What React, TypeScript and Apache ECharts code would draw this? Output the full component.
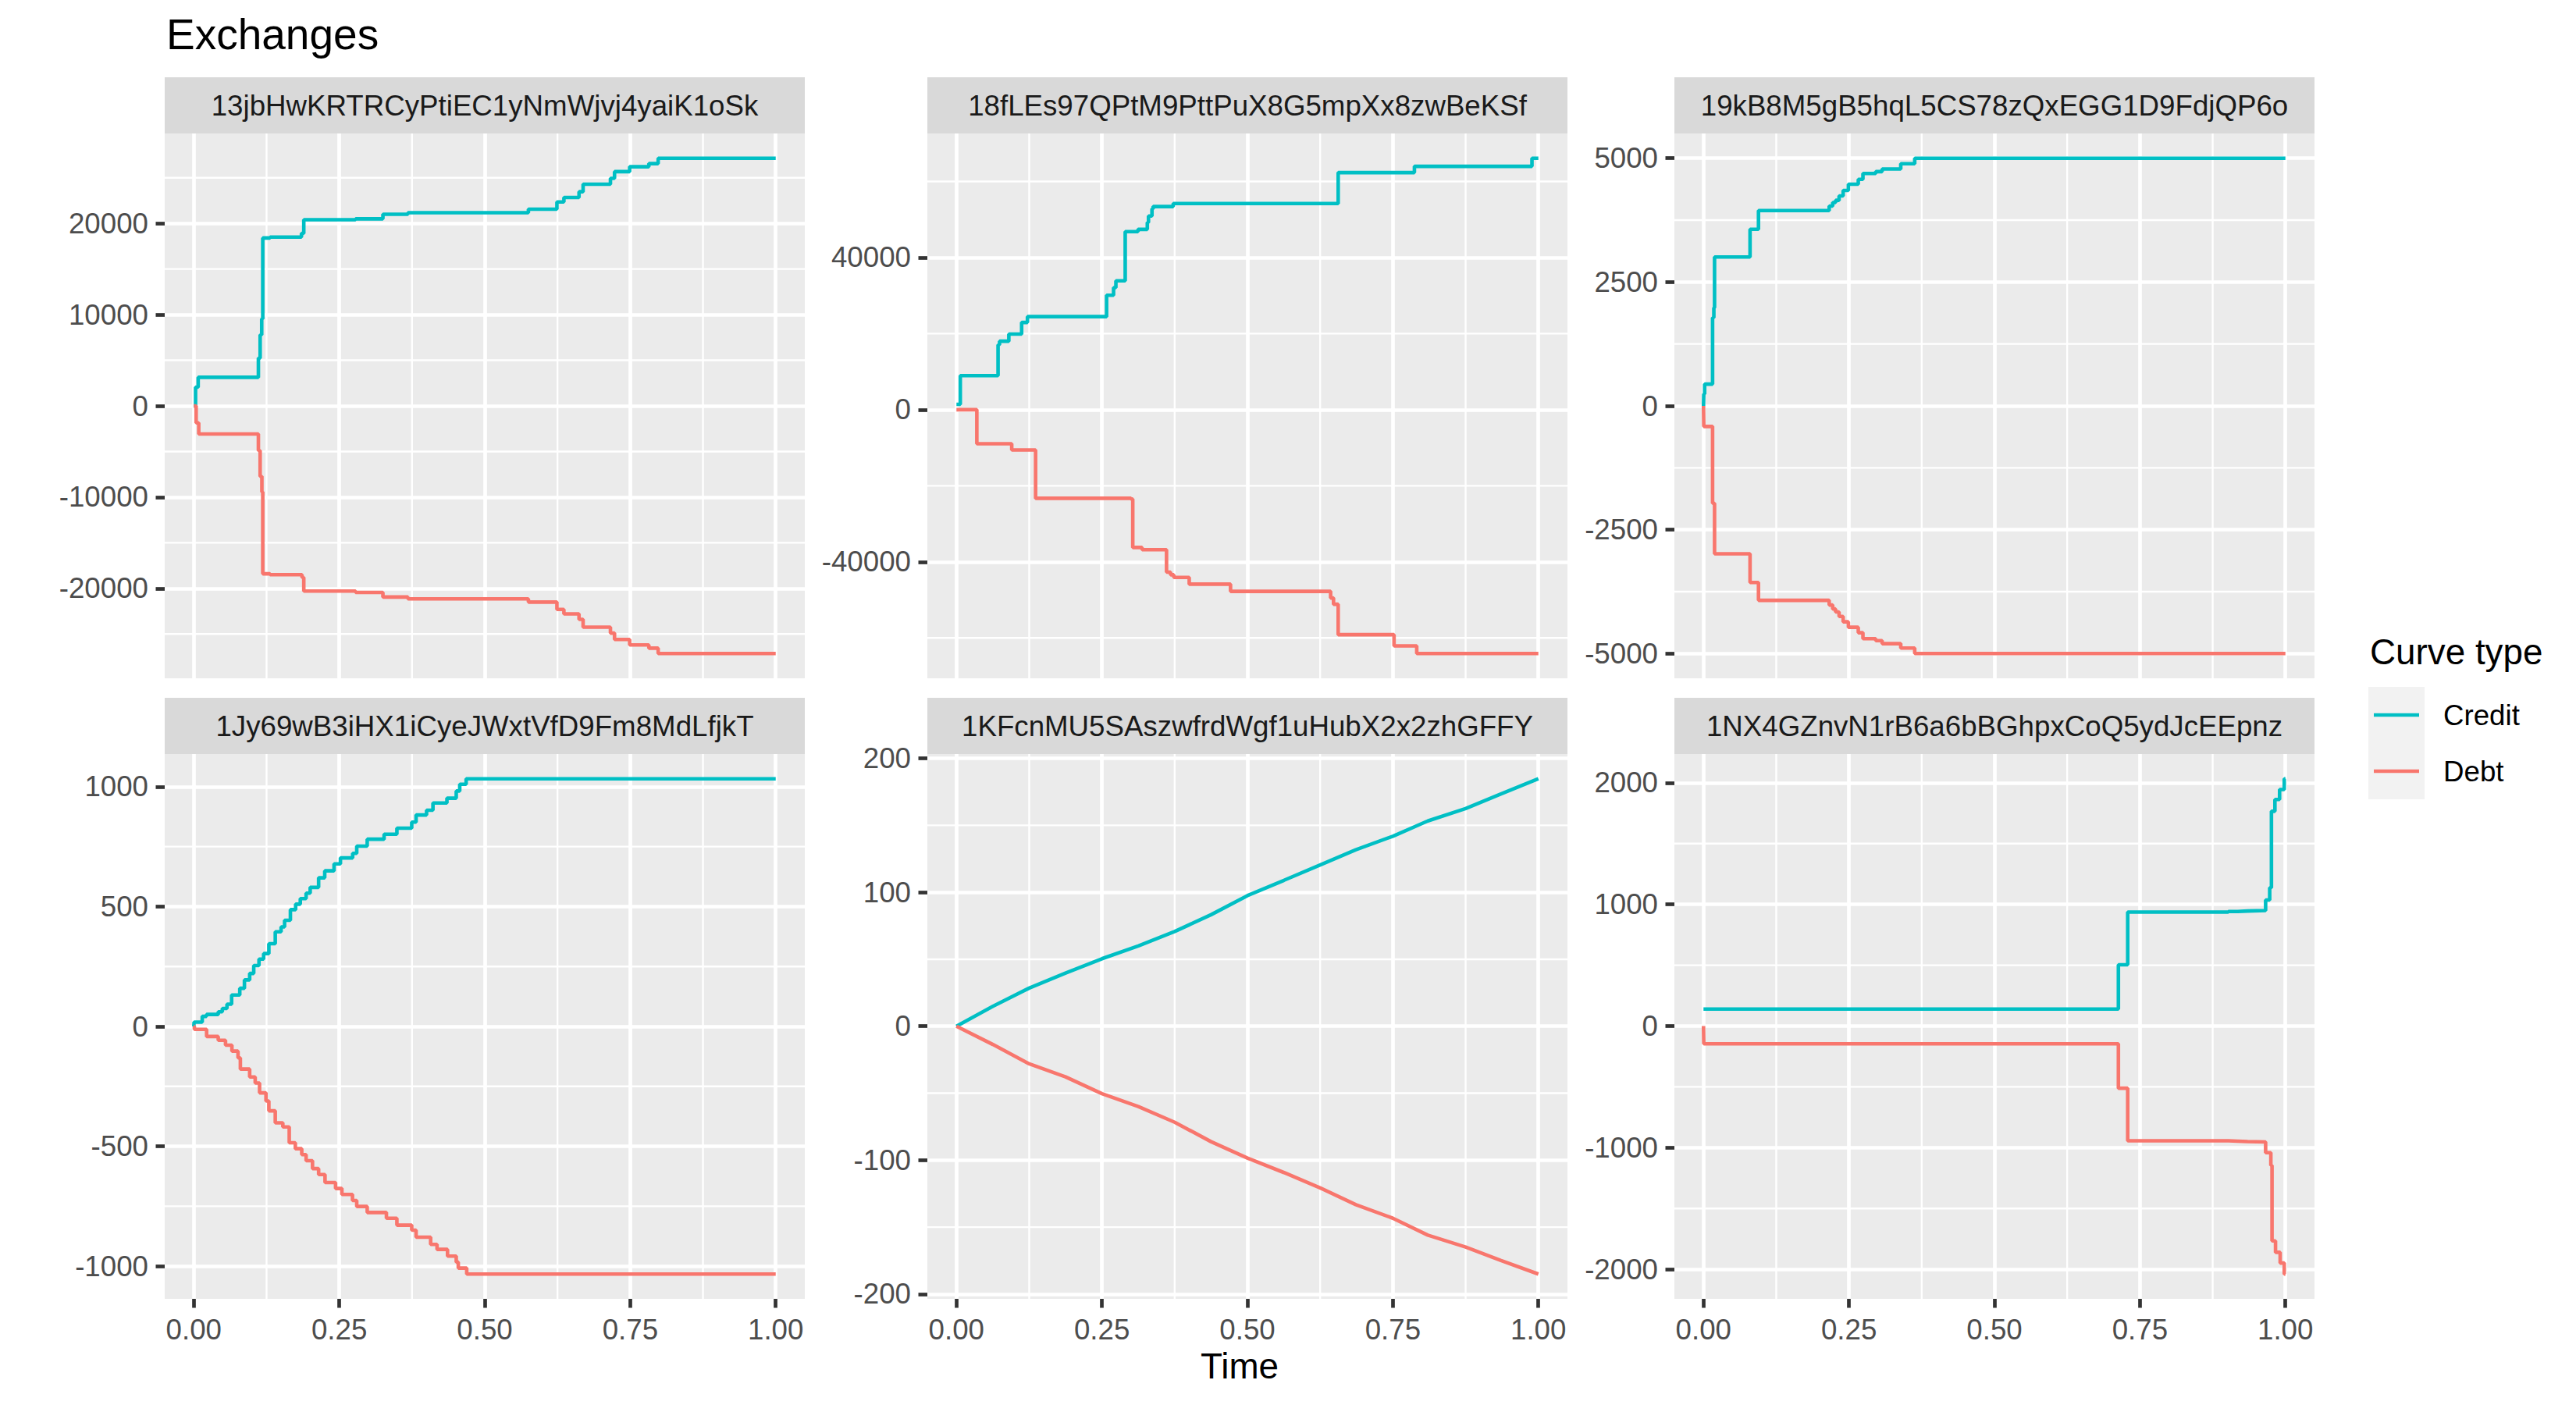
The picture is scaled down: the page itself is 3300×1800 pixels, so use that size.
import React, { useEffect, useRef } from "react";
import * as echarts from "echarts";

const FONT = "'Liberation Sans', Arial, Helvetica, sans-serif";
const CREDIT_COLOR = "#00BFC4";
const DEBT_COLOR = "#F8766D";
const MAJOR_W = 4.7;
const MINOR_W = 2.35;
const DATA_W = 4.6;

// ---------- labels ----------
const chartTitle = "Exchanges";
const xAxisTitle = "Time";
const legendTitle = "Curve type";
const legendLabels = ["Credit", "Debt"];
const panelNames = [
  "13jbHwKRTRCyPtiEC1yNmWjvj4yaiK1oSk",
  "18fLEs97QPtM9PttPuX8G5mpXx8zwBeKSf",
  "19kB8M5gB5hqL5CS78zQxEGG1D9FdjQP6o",
  "1Jy69wB3iHX1iCyeJWxtVfD9Fm8MdLfjkT",
  "1KFcnMU5SAszwfrdWgf1uHubX2x2zhGFFY",
  "1NX4GZnvN1rB6a6bBGhpxCoQ5ydJcEEpnz",
];

// ---------- ticks ----------
const xTicks = [0, 0.25, 0.5, 0.75, 1];
const xMinor = [0.125, 0.375, 0.625, 0.875];
const p1YTicks = [-20000, -10000, 0, 10000, 20000];
const p1YMinor = [-25000, -15000, -5000, 5000, 15000, 25000];
const p2YTicks = [-40000, 0, 40000];
const p2YMinor = [-60000, -20000, 20000, 60000];
const p3YTicks = [-5000, -2500, 0, 2500, 5000];
const p3YMinor = [-3750, -1250, 1250, 3750];
const p4YTicks = [-1000, -500, 0, 500, 1000];
const p4YMinor = [-750, -250, 250, 750];
const p5YTicks = [-200, -100, 0, 100, 200];
const p5YMinor = [-150, -50, 50, 150];
const p6YTicks = [-2000, -1000, 0, 1000, 2000];
const p6YMinor = [-1500, -500, 500, 1500];

// ---------- data: [time, cumulative value] ----------
const p1Credit = [
  [0, 0], [0.003, 2050], [0.0075, 3130], [0.111, 5230], [0.114, 7780], [0.1167, 9540],
  [0.1185, 18400], [0.131, 18500], [0.185, 18900], [0.189, 20400], [0.278, 20500],
  [0.325, 21000], [0.368, 21170], [0.575, 21560], [0.624, 22350], [0.636, 22840],
  [0.662, 23470], [0.669, 24300], [0.716, 24940], [0.723, 25670], [0.749, 26210],
  [0.782, 26550], [0.798, 27140], [1.0, 27140],
];
const p1Debt = [
  [0, 0], [0.004, -1860], [0.0085, -3080], [0.111, -4900], [0.114, -7730], [0.117, -9440],
  [0.1185, -18400], [0.131, -18500], [0.186, -18800], [0.189, -20300], [0.278, -20450],
  [0.325, -20950], [0.368, -21150], [0.575, -21500], [0.624, -22300], [0.636, -22800],
  [0.662, -23400], [0.669, -24250], [0.716, -24900], [0.723, -25600], [0.749, -26200],
  [0.782, -26550], [0.798, -27140], [1.0, -27140],
];
const p2Credit = [
  [0, 1400], [0.0066, 8940], [0.0715, 17050], [0.074, 18000], [0.09, 19870], [0.112, 22930],
  [0.122, 24460], [0.258, 30100], [0.27, 32100], [0.274, 33870], [0.29, 46800],
  [0.312, 47400], [0.328, 49200], [0.33, 50900], [0.336, 52800], [0.338, 53400],
  [0.3725, 54200], [0.656, 62330], [0.787, 63970], [0.989, 66100], [1.0, 66100],
];
const p2Debt = [
  [0, 0], [0.035, -8940], [0.095, -10580], [0.136, -23290], [0.3, -23500], [0.303, -36220],
  [0.319, -36800], [0.361, -42700], [0.368, -43400], [0.3735, -44100], [0.4, -45860],
  [0.471, -47750], [0.643, -49500], [0.648, -51150], [0.656, -59150], [0.752, -62100],
  [0.791, -64100], [1.0, -64100],
];
const p3Credit = [
  [0, 0], [0.0005, 240], [0.002, 440], [0.0156, 1780], [0.0178, 1980], [0.019, 3005],
  [0.08, 3565], [0.0945, 3944], [0.216, 4034], [0.222, 4106], [0.227, 4150], [0.233, 4240],
  [0.24, 4350], [0.249, 4476], [0.266, 4575], [0.274, 4693], [0.296, 4730], [0.307, 4783],
  [0.339, 4890], [0.363, 5000], [1.0, 5000],
];
const p3Debt = [
  [0, 0], [0.0005, -415], [0.0156, -1967], [0.019, -2987], [0.08, -3565], [0.0945, -3926],
  [0.216, -4020], [0.222, -4100], [0.227, -4160], [0.233, -4250], [0.24, -4360],
  [0.249, -4470], [0.266, -4580], [0.274, -4700], [0.296, -4740], [0.307, -4800],
  [0.339, -4890], [0.363, -5000], [1.0, -5000],
];
const p4Credit = [
  [0, 0], [0.0005, 18], [0.0145, 42], [0.0218, 50], [0.042, 61], [0.049, 75], [0.057, 93],
  [0.065, 131], [0.079, 159], [0.087, 194], [0.096, 221], [0.103, 254], [0.112, 281],
  [0.12, 304], [0.129, 345], [0.14, 395], [0.15, 415], [0.156, 443], [0.166, 487],
  [0.175, 510], [0.183, 533], [0.193, 556], [0.2, 580], [0.2145, 620], [0.225, 649],
  [0.241, 678], [0.252, 703], [0.273, 722], [0.28, 752], [0.298, 781], [0.327, 802],
  [0.349, 827], [0.3745, 852], [0.382, 882], [0.4, 902], [0.411, 932], [0.435, 952],
  [0.451, 982], [0.457, 1010], [0.468, 1033], [1.0, 1033],
];
const p4Debt = [
  [0, 0], [0.001, -12], [0.022, -42], [0.042, -58], [0.0545, -78], [0.0655, -103],
  [0.076, -131], [0.08, -178], [0.096, -211], [0.1055, -236], [0.113, -277], [0.124, -311],
  [0.129, -352], [0.14, -402], [0.153, -419], [0.164, -485], [0.1745, -510], [0.1855, -535],
  [0.193, -560], [0.204, -593], [0.2145, -618], [0.2255, -651], [0.2436, -676],
  [0.2545, -701], [0.2727, -726], [0.28, -751], [0.298, -776], [0.331, -800], [0.349, -829],
  [0.3745, -850], [0.382, -879], [0.407, -909], [0.418, -930], [0.436, -958], [0.451, -983],
  [0.4545, -1008], [0.469, -1033], [1.0, -1033],
];
const p5Credit = [
  [0, 0], [0.0625, 14.9], [0.125, 28.5], [0.1875, 39.7], [0.25, 50.4], [0.3125, 60],
  [0.375, 70.7], [0.4375, 83.3], [0.5, 97.5], [0.5629, 109], [0.625, 120.5],
  [0.6864, 131.8], [0.75, 141.9], [0.81, 153.3], [0.875, 162.6], [0.9358, 173.5],
  [1.0, 184.8],
];
const p5Debt = [
  [0, 0], [0.0625, -13.6], [0.125, -28.1], [0.1875, -37.8], [0.25, -50.4], [0.3125, -60],
  [0.375, -71.7], [0.4375, -86.2], [0.5, -98.5], [0.5629, -109.3], [0.625, -120.7],
  [0.6864, -133.3], [0.75, -143.4], [0.81, -156], [0.875, -164.9], [0.9358, -175],
  [1.0, -185.1],
];
const p6Credit = [
  [0, 140], [0.713, 504], [0.729, 937], [0.902, 942], [0.918, 946], [0.935, 950],
  [0.966, 1037], [0.973, 1138], [0.976, 1766], [0.982, 1863], [0.99, 1945], [0.998, 2033],
  [1.0, 2033],
];
const p6Debt = [
  [0, 0], [0.0005, -146], [0.713, -511], [0.729, -943], [0.902, -946], [0.918, -950],
  [0.935, -953], [0.966, -1041], [0.975, -1145], [0.977, -1766], [0.983, -1860],
  [0.991, -1948], [0.998, -2039], [1.0, -2039],
];

const panels = [
  { credit: p1Credit, debt: p1Debt, yTicks: p1YTicks, yMinor: p1YMinor, step: true },
  { credit: p2Credit, debt: p2Debt, yTicks: p2YTicks, yMinor: p2YMinor, step: true },
  { credit: p3Credit, debt: p3Debt, yTicks: p3YTicks, yMinor: p3YMinor, step: true },
  { credit: p4Credit, debt: p4Debt, yTicks: p4YTicks, yMinor: p4YMinor, step: true },
  { credit: p5Credit, debt: p5Debt, yTicks: p5YTicks, yMinor: p5YMinor, step: false },
  { credit: p6Credit, debt: p6Debt, yTicks: p6YTicks, yMinor: p6YMinor, step: true },
];

// ---------- layout (px) ----------
const COL_LEFT = [211, 1188, 2145];
const ROW_TOP = [171, 966];
const PANEL_W = 820;
const PANEL_H = 698;
const STRIP_H = 72;
const X_MIN = -0.05;
const X_MAX = 1.05;

function yRange(credit: number[][], debt: number[][]) {
  const vals = credit.concat(debt).map((d) => d[1]);
  const lo = Math.min(...vals);
  const hi = Math.max(...vals);
  const pad = (hi - lo) * 0.05;
  return [lo - pad, hi + pad];
}

function buildOption() {
  const grids: any[] = [];
  const xAxes: any[] = [];
  const yAxes: any[] = [];
  const series: any[] = [];
  const graphics: any[] = [];

  panels.forEach((p, i) => {
    const col = i % 3;
    const row = Math.floor(i / 3);
    const left = COL_LEFT[col];
    const top = ROW_TOP[row];
    const bottomRow = row === 1;
    const yr = yRange(p.credit, p.debt);

    grids.push({
      left, top, width: PANEL_W, height: PANEL_H,
      show: true, backgroundColor: "#EBEBEB", borderWidth: 0, containLabel: false,
    });

    xAxes.push({
      type: "value", gridIndex: i, min: X_MIN, max: X_MAX, position: "bottom",
      axisLine: { show: false, onZero: false },
      splitLine: { show: true, lineStyle: { color: "#FFFFFF", width: MAJOR_W } },
      axisTick: { show: bottomRow, length: 11.5, customValues: xTicks, lineStyle: { color: "#333333", width: MAJOR_W } },
      axisLabel: {
        show: bottomRow, customValues: xTicks, formatter: (v: number) => v.toFixed(2),
        margin: 21, color: "#4D4D4D", fontSize: 36.7, fontFamily: FONT,
      },
    });

    yAxes.push({
      type: "value", gridIndex: i, min: yr[0], max: yr[1], position: "left",
      axisLine: { show: false, onZero: false },
      splitLine: { show: true, lineStyle: { color: "#FFFFFF", width: MAJOR_W } },
      axisTick: { show: true, length: 11.5, customValues: p.yTicks, lineStyle: { color: "#333333", width: MAJOR_W } },
      axisLabel: {
        show: true, customValues: p.yTicks, formatter: (v: number) => String(Math.round(v)),
        margin: 21, color: "#4D4D4D", fontSize: 36.7, fontFamily: FONT,
      },
    });

    const common = {
      type: "line", xAxisIndex: i, yAxisIndex: i, symbol: "none", showSymbol: false,
      silent: true, animation: false,
    };

    // minor grid lines (white), drawn as two-point series through the axes' scales
    const addGridLine = (pts: number[][], width: number) => {
      series.push({ ...common, z: 1, data: pts, lineStyle: { color: "#FFFFFF", width } });
    };
    p.yMinor
      .filter((v) => v >= yr[0] && v <= yr[1])
      .forEach((v) => addGridLine([[X_MIN, v], [X_MAX, v]], MINOR_W));
    xMinor.forEach((v) => addGridLine([[v, yr[0]], [v, yr[1]]], MINOR_W));

    series.push({ ...common, name: "Credit", z: 3, step: p.step ? "end" : false, data: p.credit, lineStyle: { color: CREDIT_COLOR, width: DATA_W } });
    series.push({ ...common, name: "Debt", z: 3, step: p.step ? "end" : false, data: p.debt, lineStyle: { color: DEBT_COLOR, width: DATA_W } });

    // facet strip
    graphics.push({
      type: "rect", shape: { x: left, y: top - STRIP_H, width: PANEL_W, height: STRIP_H },
      style: { fill: "#D9D9D9" }, silent: true,
    });
    graphics.push({
      type: "text", x: left + PANEL_W / 2, y: top - STRIP_H / 2, silent: true,
      style: {
        text: panelNames[i], fontSize: 36.7, fontFamily: FONT, fill: "#1A1A1A",
        align: "center", verticalAlign: "middle", textAlign: "center", textVerticalAlign: "middle",
      },
    });
  });

  const txt = (text: string, x: number, y: number, size: number, align: string, fill = "#000000") => ({
    type: "text", x, y, silent: true,
    style: {
      text, fontSize: size, fontFamily: FONT, fill, align, verticalAlign: "middle",
      textAlign: align, textVerticalAlign: "middle",
    },
  });

  graphics.push(txt(chartTitle, 213, 44, 55, "left"));
  graphics.push(txt(xAxisTitle, (COL_LEFT[0] + COL_LEFT[2] + PANEL_W) / 2, 1750, 45.8, "center"));
  graphics.push(txt(legendTitle, 3036, 835, 45.8, "left"));

  const legendColors = [CREDIT_COLOR, DEBT_COLOR];
  legendLabels.forEach((lab, k) => {
    const ky = 880 + k * 72;
    graphics.push({ type: "rect", shape: { x: 3034, y: ky, width: 72, height: 72 }, style: { fill: "#F2F2F2" }, silent: true });
    graphics.push({
      type: "line", shape: { x1: 3041, y1: ky + 36, x2: 3099, y2: ky + 36 },
      style: { stroke: legendColors[k], lineWidth: DATA_W }, silent: true,
    });
    graphics.push(txt(lab, 3130, ky + 36, 36.7, "left"));
  });

  return { animation: false, backgroundColor: "#FFFFFF", grid: grids, xAxis: xAxes, yAxis: yAxes, series, graphic: graphics };
}

export default function App() {
  const ref = useRef<HTMLDivElement>(null);
  useEffect(() => {
    document.body.style.margin = "0";
    if (!ref.current) return;
    const chart = echarts.init(ref.current, undefined, { renderer: "svg" });
    chart.setOption(buildOption() as any);
    return () => {
      chart.dispose();
    };
  }, []);
  return <div ref={ref} style={{ width: 3300, height: 1800, background: "#FFFFFF" }} />;
}
